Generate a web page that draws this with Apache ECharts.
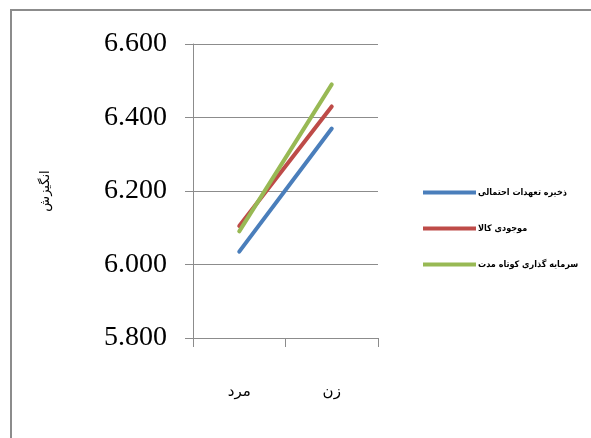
<!DOCTYPE html>
<html>
<head>
<meta charset="utf-8">
<script src="https://cdn.jsdelivr.net/npm/echarts@6/dist/echarts.min.js"></script>
<style>
  html, body { margin: 0; padding: 0; background: #fff; }
  #main { width: 591px; height: 438px; }
</style>
</head>
<body>
<div id="main"></div>
<script>
var categories = ['مرد', 'زن'];
var seriesNames = ['ذخیره تعهدات احتمالی', 'موجودی کالا', 'سرمایه گذاری کوتاه مدت'];
var blueValues = [6.035, 6.37];
var redValues = [6.105, 6.43];
var greenValues = [6.09, 6.49];
var yTicks = { min: 5.8, max: 6.6, step: 0.2 };

var colors = ['#4a7ebb', '#be4b48', '#98b954'];
var chart = echarts.init(document.getElementById('main'));

function makeLine(name, values, color) {
    return {
        name: name,
        type: 'line',
        data: values,
        symbol: 'none',
        lineStyle: { width: 4, color: color, cap: 'round' },
        itemStyle: { color: color }
    };
}

var option = {
    backgroundColor: '#ffffff',
    animation: false,
    graphic: [{
        type: 'rect',
        shape: { x: 11, y: 10, width: 700, height: 600 },
        style: { fill: 'none', stroke: '#8c8c8c', lineWidth: 2 }
    }],
    grid: { left: 193, top: 44, width: 185, height: 294 },
    legend: {
        orient: 'vertical',
        left: 418,
        top: 183,
        itemGap: 27,
        itemWidth: 53,
        itemHeight: 4,
        icon: 'rect',
        textStyle: { fontFamily: 'DejaVu Sans Condensed', fontSize: 9, fontWeight: 'bold', color: '#000', padding: [0, 0, 0, -3] },
        data: seriesNames
    },
    xAxis: {
        type: 'category',
        data: categories,
        boundaryGap: true,
        axisLine: { lineStyle: { color: '#8c8c8c', width: 1 } },
        axisTick: { show: true, length: 9, lineStyle: { color: '#8c8c8c' } },
        axisLabel: { margin: 47, fontFamily: 'DejaVu Sans', fontSize: 15, color: '#000' }
    },
    yAxis: {
        type: 'value',
        min: yTicks.min,
        max: yTicks.max,
        interval: yTicks.step,
        name: 'انگیزش',
        nameLocation: 'middle',
        nameRotate: 90,
        nameGap: 141,
        nameTextStyle: { fontFamily: 'DejaVu Sans', fontSize: 13, color: '#000' },
        axisLine: { show: true, lineStyle: { color: '#8c8c8c', width: 1 } },
        axisTick: { show: true, length: 8, lineStyle: { color: '#8c8c8c' } },
        splitLine: { show: true, lineStyle: { color: '#8c8c8c', width: 1 } },
        axisLabel: {
            margin: 26,
            fontFamily: 'Liberation Serif',
            fontSize: 28,
            color: '#000',
            formatter: function (v) { return v.toFixed(3); }
        }
    },
    series: [
        makeLine(seriesNames[0], blueValues, colors[0]),
        makeLine(seriesNames[1], redValues, colors[1]),
        makeLine(seriesNames[2], greenValues, colors[2])
    ]
};
chart.setOption(option);
</script>
</body>
</html>
